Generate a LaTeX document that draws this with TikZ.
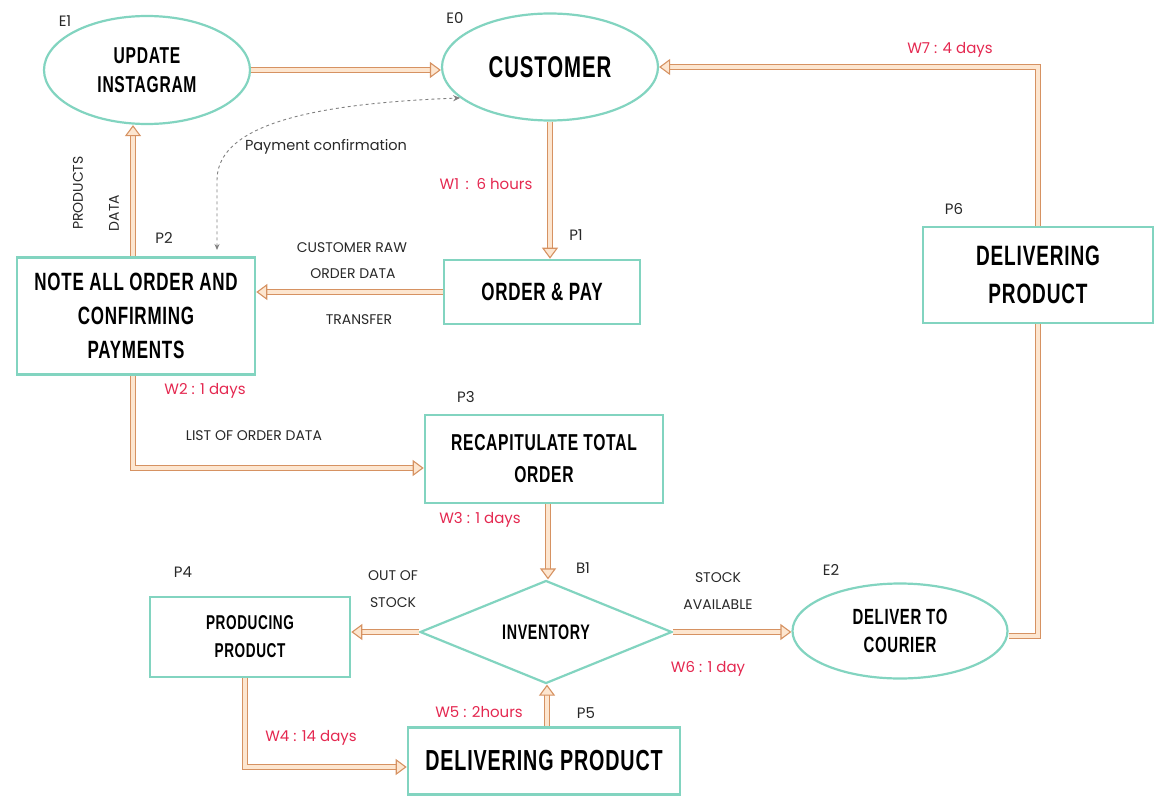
\documentclass[tikz,border=0pt]{standalone}
\usepackage{fontspec}
\usetikzlibrary{arrows.meta,shapes.geometric}
\newfontfamily\titlefont{Liberation Sans Bold}[FakeStretch=0.68,LetterSpace=3]
\newfontfamily\labelfont{Poppins}

\definecolor{boxline}{RGB}{130,212,192}
\definecolor{flowline}{RGB}{214,146,98}
\definecolor{flowfill}{RGB}{253,230,208}
\definecolor{waitred}{RGB}{228,40,80}
\definecolor{textgray}{RGB}{40,40,40}

\tikzset{
  procbox/.style 2 args={draw=boxline, line width=2.6pt, fill=white, rectangle, inner sep=0pt, align=center,
    font=\titlefont\fontsize{#1}{#2}\selectfont},
  extent/.style 2 args={draw=boxline, line width=2.2pt, fill=white, ellipse, inner sep=0pt, align=center,
    font=\titlefont\fontsize{#1}{#2}\selectfont},
  decision/.style 2 args={draw=boxline, line width=2.2pt, fill=white, diamond, inner sep=0pt, align=center,
    font=\titlefont\fontsize{#1}{#2}\selectfont},
  flowplain/.style={draw=flowline, double=flowfill, double distance=4pt, line width=1.1pt, line join=miter},
  flow/.style={flowplain,
    -{Triangle[length=11pt, width=16pt, line width=1.1pt, fill=flowfill, line join=miter]}},
  tag/.style={font=\labelfont\fontsize{15}{17}\selectfont, text=textgray, inner sep=0pt},
  wait/.style={font=\labelfont\fontsize{15}{17}\selectfont, text=waitred, inner sep=0pt},
  note/.style={font=\labelfont\fontsize{14}{27}\selectfont, text=textgray, inner sep=0pt, align=center},
}

\begin{document}
\begin{tikzpicture}[x=1pt,y=-1pt]
\useasboundingbox (0,0) rectangle (1155,797);

% entities and processes
\node[extent={23}{29}, minimum width=206pt, minimum height=108pt] (e1) at (147,70)
  {UPDATE\\ INSTAGRAM};
\node[extent={30}{32}, minimum width=216pt, minimum height=107pt] (e0) at (550,67)
  {CUSTOMER};
\node[procbox={25}{28}, minimum width=196pt, minimum height=64pt] (p1) at (542,292)
  {ORDER \& PAY};
\node[procbox={25}{34}, minimum width=238pt, minimum height=117pt] (p2) at (136,316)
  {NOTE ALL ORDER AND\\ CONFIRMING\\ PAYMENTS};
\node[procbox={23}{32}, minimum width=238pt, minimum height=88pt] (p3) at (544,459)
  {RECAPITULATE TOTAL\\ ORDER};
\node[decision={21}{24}, minimum width=252pt, minimum height=103pt] (b1) at (546,632)
  {INVENTORY};
\node[procbox={20}{28}, minimum width=200pt, minimum height=80pt] (p4) at (250,637)
  {PRODUCING\\ PRODUCT};
\node[extent={22}{28}, minimum width=215pt, minimum height=95pt] (e2) at (900,631)
  {DELIVER TO\\ COURIER};
\node[procbox={29}{32}, minimum width=272pt, minimum height=67pt] (p5) at (544,761)
  {DELIVERING PRODUCT};
\node[procbox={28}{38}, minimum width=230pt, minimum height=96pt] (p6) at (1038,275)
  {DELIVERING\\ PRODUCT};

% identifiers
\node[tag] (le1) at (65,21) {E1};
\node[tag] (le0) at (455,18) {E0};
\node[tag] (lp1) at (576,235) {P1};
\node[tag] (lp2) at (164,238) {P2};
\node[tag] (lp3) at (466,397) {P3};
\node[tag] (lp4) at (183,572) {P4};
\node[tag] (lb1) at (583,568) {B1};
\node[tag] (lp5) at (586,713) {P5};
\node[tag] (le2) at (831,570) {E2};
\node[tag] (lp6) at (954,209) {P6};

% data flows
\draw[flow] (e1.east) -- (e1.east -| e0.west);
\draw[flow] (e0.south) -- (e0.south |- p1.north);
\draw[flow] (p1.west) -- (p1.west -| p2.east);
\draw[flow] ([xshift=-3pt]p2.north) -- ([xshift=-3pt]p2.north |- e1.south);
\draw[flow] ([xshift=-3pt]p2.south) |- ([yshift=-9pt]p3.west);
\draw[flow] ([xshift=4pt]p3.south) -- ([xshift=2pt]b1.north);
\draw[flow] (b1.west) -- (b1.west -| p4.east);
\draw[flow] (b1.east) -- (b1.east -| e2.west);
\draw[flow] ([xshift=-5pt]p4.south) |- ([yshift=-6pt]p5.west);
\draw[flow] ([xshift=3pt]p5.north) -- ([xshift=1pt]b1.south);
\draw[flowplain] ([yshift=-5pt]e2.east) -| (p6.south);
\draw[flow] (p6.north) |- (e0.east);

% payment confirmation link
\coordinate (payfoot) at (217,250);
\coordinate (paybend) at (217,180);
\draw[gray, dashed, line width=0.9pt, {Stealth[length=6pt,width=5pt]}-{Stealth[length=7pt,width=6pt]}]
  (payfoot) -- (paybend) .. controls (217,120) and (330,103) .. (e0.199);
\node[tag, font=\labelfont\fontsize{14.5}{17}\selectfont] (paylbl) at (326,147) {Payment confirmation};

% flow labels
\node[note] (craw) at (352,248) {CUSTOMER RAW};
\node[note] (codata) at (353,274) {ORDER DATA};
\node[note] (ctrans) at (359,320) {TRANSFER};
\node[note] (lod) at (254,436) {LIST OF ORDER DATA};
\node[note] (oos) at (393,589) {OUT OF\\ STOCK};
\node[note] (sav) at (718,591) {STOCK\\ AVAILABLE};
\node[note, rotate=90] (lprod) at (78,193) {PRODUCTS};
\node[note, rotate=90] (ldata) at (114,213) {DATA};

% waiting times
\node[wait] (w1) at (486,184) {W1 \,:\, 6 hours};
\node[wait] (w2) at (205,391) {W2 : 1 days};
\node[wait] (w3) at (480,520) {W3 : 1 days};
\node[wait] (w4) at (311,738) {W4 : 14 days};
\node[wait] (w5) at (479,712) {W5 : 2hours};
\node[wait] (w6) at (708,669) {W6 : 1 day};
\node[wait] (w7) at (950,50) {W7 : 4 days};

\end{tikzpicture}
\end{document}
